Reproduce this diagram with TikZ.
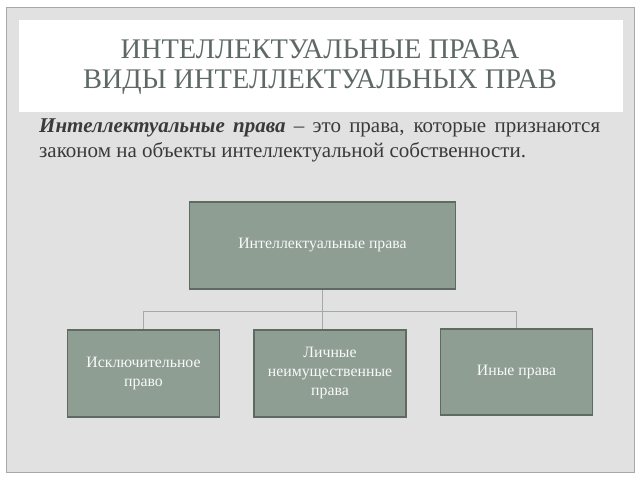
\documentclass[tikz,border=0pt]{standalone}
\usepackage{fontspec}
\setmainfont{Liberation Serif}
\definecolor{panel}{HTML}{E1E1E1}
\definecolor{panelborder}{HTML}{A8A8A8}
\definecolor{titlecol}{HTML}{5E6964}
\definecolor{bodycol}{HTML}{3A3A3A}
\definecolor{boxfill}{HTML}{8E9E93}
\definecolor{boxborder}{HTML}{5F6A63}
\definecolor{linecol}{HTML}{A3AAA6}
\tikzset{
  orgbox/.style={draw=boxborder, line width=1.2pt, fill=boxfill, text=white!95!gray,
    font=\fontsize{15.8}{19}\selectfont, align=center, inner sep=0pt},
  conn/.style={draw=linecol, line width=0.9pt}
}
\begin{document}
\begin{tikzpicture}[x=1pt,y=-1pt]
\useasboundingbox (0,0) rectangle (640,480);
\fill[white] (0,0) rectangle (640,480);
\filldraw[fill=panel, draw=panelborder, line width=0.8pt] (6.5,7.5) rectangle (634,472);
\fill[white] (18.5,19.5) rectangle (623,112);
\node[text=titlecol, font=\fontsize{28.4}{30}\selectfont, align=center] (title) at (320,67)
  {ИНТЕЛЛЕКТУАЛЬНЫЕ ПРАВА\\ВИДЫ ИНТЕЛЛЕКТУАЛЬНЫХ ПРАВ};
\node[text=bodycol, font=\fontsize{21}{25}\selectfont, anchor=north west, inner sep=0pt, align=left] (body) at (39,119)
  {\hbox to 561pt{\textbf{\textit{Интеллектуальные права}} – это права, которые признаются}\\
   законом на объекты интеллектуальной собственности.};
\node[orgbox, minimum width=266pt, minimum height=87pt] (top) at (322.5,245.5) {Интеллектуальные права};
\node[orgbox, minimum width=152pt, minimum height=87pt] (b1) at (143.5,373.5) {Исключительное\\право};
\node[orgbox, minimum width=152pt, minimum height=87pt] (b2) at (330,373.5) {Личные\\неимущественные\\права};
\node[orgbox, minimum width=152pt, minimum height=86pt] (b3) at (516.5,372) {Иные права};
\coordinate (j) at (322.5,311);
\coordinate (hl) at (143.5,311);
\coordinate (hr) at (516.5,311);
\draw[conn] (top.south) -- (j);
\draw[conn] (hl) -- (hr);
\draw[conn] (hl) -- (b1.north);
\draw[conn] (j) -- (j |- b2.north);
\draw[conn] (hr) -- (b3.north);
\end{tikzpicture}
\end{document}
